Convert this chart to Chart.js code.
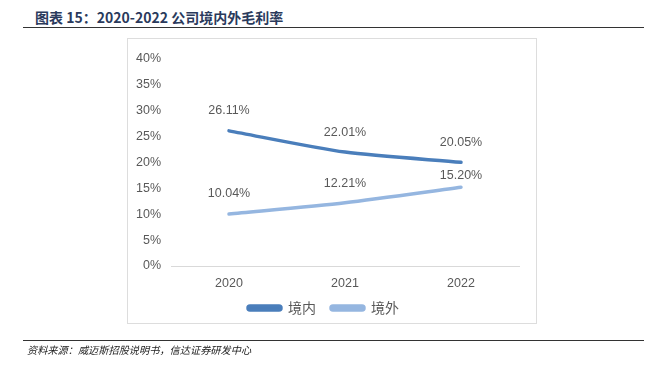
<!DOCTYPE html>
<html>
<head>
<meta charset="utf-8">
<script src="https://cdn.jsdelivr.net/npm/chart.js@4.4.0/dist/chart.umd.min.js"></script>
<style>
  html, body { margin: 0; padding: 0; background: #fff; }
  #wrap { position: relative; width: 660px; height: 375px; overflow: hidden; }
  #title {
    position: absolute; left: 35px; top: 7px;
    font: bold 14px "Noto Sans CJK SC", "Noto Sans", sans-serif;
    color: #2A3A5C; white-space: nowrap; line-height: 20px;
  }
  #titleLine { position: absolute; left: 23px; top: 27px; width: 621px; height: 1px; background: #333; }
  #box { position: absolute; left: 127px; top: 38px; width: 408px; height: 284px; border: 1.5px solid #DDDDDD; }
  #srcLine { position: absolute; left: 23px; top: 340px; width: 621px; height: 1px; background: #333; }
  #source {
    position: absolute; left: 27px; top: 342px;
    font: italic 10.2px "Noto Sans CJK SC", sans-serif;
    color: #222; white-space: nowrap; line-height: 16px;
  }
  canvas { position: absolute; left: 0; top: 0; }
</style>
</head>
<body>
<div id="wrap">
  <div id="title">图表 15：2020-2022 公司境内外毛利率</div>
  <div id="titleLine"></div>
  <div id="box"></div>
  <canvas id="marginChart" width="660" height="375"></canvas>
  <div id="srcLine"></div>
  <div id="source">资料来源：威迈斯招股说明书，信达证券研发中心</div>
</div>
<script>
// data
var years = ['2020', '2021', '2022']
var domestic = [26.11, 22.01, 20.05]
var overseas = [10.04, 12.21, 15.20]
var seriesNames = ['境内', '境外']

// how far above each point its label sits (px)
var labelLift = [[20, 20, 20], [20, 19, 12]]

var pointLabels = {
    id: 'pointLabels',
    afterDatasetsDraw: function (chart) {
        var ctx = chart.ctx
        ctx.save()
        ctx.font = '12.5px "Liberation Sans", sans-serif'
        ctx.fillStyle = '#595959'
        ctx.textAlign = 'center'
        ctx.textBaseline = 'middle'
        chart.data.datasets.forEach(function (ds, i) {
            chart.getDatasetMeta(i).data.forEach(function (pt, j) {
                ctx.fillText(ds.data[j].toFixed(2) + '%', pt.x, pt.y - labelLift[i][j])
            })
        })
        ctx.restore()
    }
}

// pull the legend a little closer to the axis labels
var legendNudge = {
    id: 'legendNudge',
    afterLayout: function (chart) {
        chart.legend.top -= 7
        chart.legend.bottom -= 7
    }
}

var lineCanvas = document.getElementById('marginChart').getContext('2d')
var marginChart = new Chart(lineCanvas, {
    type: 'line',
    data: {
        labels: years,
        datasets: [{
                label: seriesNames[0],
                data: domestic,
                borderColor: '#4A7EBB',
                backgroundColor: '#4A7EBB',
                borderWidth: 3.5,
                pointRadius: 0,
                tension: 0.25,
                borderCapStyle: 'round'
            },
            {
                label: seriesNames[1],
                data: overseas,
                borderColor: '#95B6E0',
                backgroundColor: '#95B6E0',
                borderWidth: 3.5,
                pointRadius: 0,
                tension: 0.25,
                borderCapStyle: 'round'
            }
        ]
    },
    options: {
        responsive: false,
        animation: false,
        events: [],
        layout: {
            padding: { left: 128, right: 141, top: 59, bottom: 43 }
        },
        scales: {
            x: {
                offset: true,
                afterFit: function (scale) { scale.height = 27 },
                grid: { display: false },
                border: { display: true, color: '#D9D9D9', width: 1 },
                ticks: {
                    color: '#595959',
                    font: { family: '"Liberation Sans", sans-serif', size: 12.5 },
                    padding: 2
                }
            },
            y: {
                min: 0,
                max: 40,
                afterFit: function (scale) { scale.width = 43 },
                grid: { display: false },
                border: { display: false },
                ticks: {
                    stepSize: 5,
                    color: '#595959',
                    font: { family: '"Liberation Sans", sans-serif', size: 12.5 },
                    padding: 2,
                    callback: function (v) { return v + '%' }
                }
            }
        },
        plugins: {
            legend: {
                position: 'bottom',
                labels: {
                    boxWidth: 33,
                    boxHeight: 4,
                    useBorderRadius: true,
                    borderRadius: 2,
                    padding: 15,
                    color: '#595959',
                    font: { family: '"Noto Sans CJK SC", sans-serif', size: 14 }
                }
            },
            tooltip: { enabled: false }
        }
    },
    plugins: [pointLabels, legendNudge]
})
</script>
</body>
</html>
